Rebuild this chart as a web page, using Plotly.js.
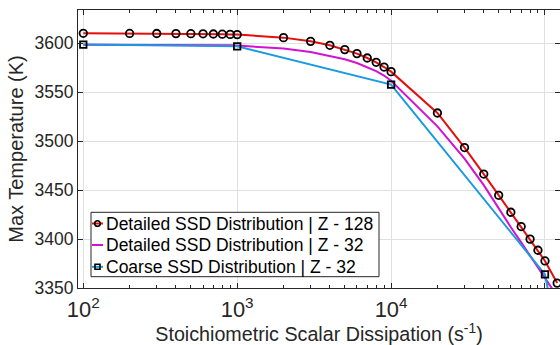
<!DOCTYPE html>
<html>
<head>
<meta charset="utf-8">
<script src="https://cdn.plot.ly/plotly-3.0.1.min.js"></script>
<style>html,body{margin:0;padding:0;background:#fff;}#chart{width:560px;height:345px;}</style>
</head>
<body>
<div id="chart"></div>
<script>
// Stoichiometric scalar dissipation (s^-1)
var chiDetailed = [100,200,300,400,500,600,700,800,900,1000,2000,3000,4000,5000,6000,7000,8000,9000,10000,20000,30000,40000,50000,60000,70000,80000,90000,100000,120000];
// Max temperature (K), Detailed SSD distribution, Z - 128
var tDetailed128 = [3609.9,3609.8,3609.7,3609.6,3609.5,3609.4,3609.2,3609.0,3608.8,3608.6,3605.5,3601.7,3597.7,3593.3,3589.2,3584.7,3580.3,3575.5,3570.8,3528.6,3493.3,3466.3,3444.6,3427.3,3412.7,3399.9,3388.5,3377.6,3355.0];
// Max temperature (K), Detailed SSD distribution, Z - 32
var tDetailed32 = [3598.3,3598.3,3598.2,3598.2,3598.1,3598.0,3597.9,3597.8,3597.6,3597.4,3594.3,3590.8,3587.0,3583.4,3579.6,3575.5,3571.4,3566.8,3561.5,3515.0,3482.0,3455.0,3431.0,3412.0,3396.5,3383.0,3370.5,3359.6,3341.6];
// Coarse SSD distribution, Z - 32
var chiCoarse = [100,1000,10000,100000,120000];
var tCoarse32 = [3598.4,3596.6,3557.6,3363.9,3300.0];
var seriesNames = ['Detailed SSD Distribution | Z - 128','Detailed SSD Distribution | Z - 32','Coarse SSD Distribution | Z - 32'];
var seriesColors = ['#e60d0d','#d211d2','#1a9ae0'];
var seriesMarkers = ['circle','none','square'];

var axisColor = '#262626';
var fontFam = '"Liberation Sans", Arial, Helvetica, sans-serif';

var traces = [
  {x: chiDetailed, y: tDetailed128, name: seriesNames[0], type: 'scatter', mode: 'lines+markers',
   line: {color: seriesColors[0], width: 2},
   marker: {symbol: 'circle-open', size: 7.5, color: '#000', line: {width: 1.8, color: '#000'}}},
  {x: chiDetailed, y: tDetailed32, name: seriesNames[1], type: 'scatter', mode: 'lines',
   line: {color: seriesColors[1], width: 2}},
  {x: chiCoarse, y: tCoarse32, name: seriesNames[2], type: 'scatter', mode: 'lines+markers',
   line: {color: seriesColors[2], width: 2},
   marker: {symbol: 'square-open', size: 6.5, color: '#000', line: {width: 1.8, color: '#000'}}}
];

// Legend box drawn in paper coordinates (MATLAB-style compact legend)
var M = {l: 78, r: 0, t: 10, b: 57};
var W = 560, H = 345;
var pw = W - M.l - M.r, ph = H - M.t - M.b;
function xp(px) { return (px - M.l) / pw; }
function yp(py) { return (H - M.b - py) / ph; }

var shapes = [
  {type: 'rect', xref: 'paper', yref: 'paper', x0: xp(91), x1: xp(379), y0: yp(276.7), y1: yp(212.3),
   fillcolor: '#fff', line: {color: axisColor, width: 1}, layer: 'above'}
];
var annotations = [];
var rowY = [223.5, 245, 266.8];
for (var i = 0; i < seriesNames.length; i++) {
  var cy = rowY[i];
  shapes.push({type: 'line', xref: 'paper', yref: 'paper', x0: xp(92), x1: xp(103), y0: yp(cy), y1: yp(cy),
    line: {color: seriesColors[i], width: 2}, layer: 'above'});
  if (seriesMarkers[i] === 'circle') {
    shapes.push({type: 'circle', xref: 'paper', yref: 'paper', x0: xp(94.7), x1: xp(100.3), y0: yp(cy + 2.8), y1: yp(cy - 2.8),
      line: {color: '#000', width: 1.6}, layer: 'above'});
  } else if (seriesMarkers[i] === 'square') {
    shapes.push({type: 'rect', xref: 'paper', yref: 'paper', x0: xp(95), x1: xp(100), y0: yp(cy + 2.5), y1: yp(cy - 2.5),
      line: {color: '#000', width: 1.6}, layer: 'above'});
  }
  annotations.push({xref: 'paper', yref: 'paper', x: xp(103.5), y: yp(cy), xanchor: 'left', yanchor: 'middle',
    text: seriesNames[i], showarrow: false, font: {family: fontFam, size: 17.5, color: '#000'}});
}

var layout = {
  width: W, height: H,
  margin: M,
  paper_bgcolor: '#fff', plot_bgcolor: '#fff',
  font: {family: fontFam, color: axisColor, size: 17},
  showlegend: false,
  shapes: shapes,
  annotations: annotations,
  xaxis: {type: 'log', range: [1.9656, 5.0975], dtick: 1, exponentformat: 'power',
    showline: true, linecolor: axisColor, linewidth: 1, mirror: 'ticks',
    ticks: 'inside', ticklen: 5, tickcolor: axisColor, tickwidth: 1,
    showgrid: true, gridcolor: '#e0e0e0', gridwidth: 1, zeroline: false,
    minor: {dtick: 'D1', ticks: 'inside', ticklen: 3, tickcolor: axisColor, showgrid: false},
    tickfont: {size: 17.5, color: axisColor}, ticklabelstandoff: 3,
    title: {text: 'Stoichiometric Scalar Dissipation (s<sup>-1</sup>)', font: {size: 19.7, color: axisColor}, standoff: 4},
    automargin: false},
  yaxis: {range: [3350, 3633.7], dtick: 50, tick0: 3350,
    showline: true, linecolor: axisColor, linewidth: 1, mirror: 'ticks',
    ticks: 'inside', ticklen: 5, tickcolor: axisColor, tickwidth: 1,
    showgrid: true, gridcolor: '#e0e0e0', gridwidth: 1, zeroline: false,
    tickfont: {size: 17.5, color: axisColor},
    title: {text: 'Max Temperature (K)', font: {size: 20, color: axisColor}, standoff: 5},
    automargin: false}
};

Plotly.newPlot('chart', traces, layout, {displayModeBar: false, staticPlot: true});
</script>
</body>
</html>
